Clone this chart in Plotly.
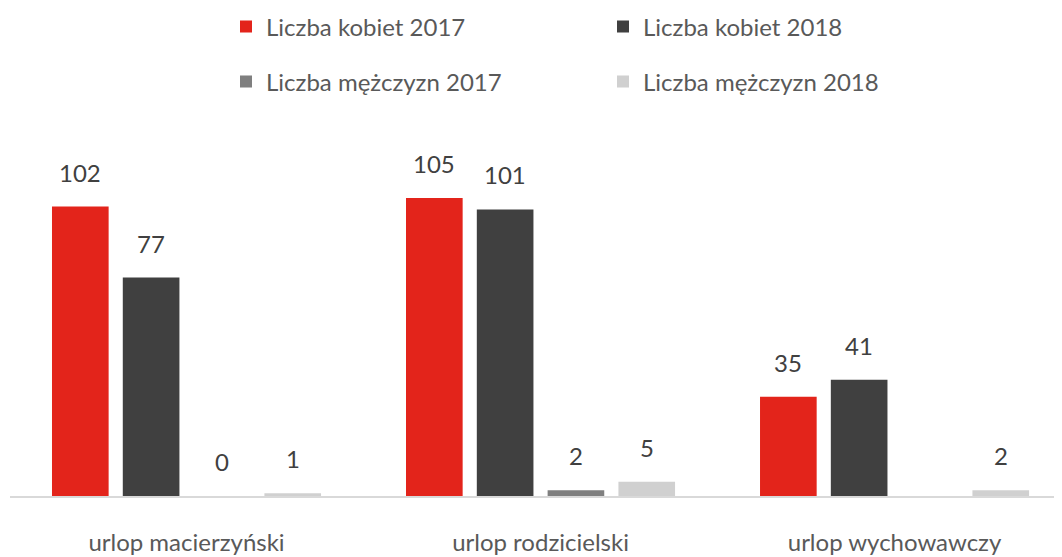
import plotly.graph_objects as go

categories = ["urlop macierzyński", "urlop rodzicielski", "urlop wychowawczy"]
series_names = ["Liczba kobiet 2017", "Liczba kobiet 2018", "Liczba mężczyzn 2017", "Liczba mężczyzn 2018"]
kobiety_2017 = [102, 105, 35]
kobiety_2018 = [77, 101, 41]
mezczyzni_2017 = [0, 2, None]
mezczyzni_2018 = [1, 5, 2]

colors = ["#e3241b", "#404040", "#7f7f7f", "#d0d0d0"]
FONT = "Lato, 'Open Sans', sans-serif"
values = [kobiety_2017, kobiety_2018, mezczyzni_2017, mezczyzni_2018]

# page body has an 8px margin, so the figure is 8px smaller than the window
W, H = 1054, 549

fig = go.Figure()
for i, (name, vals) in enumerate(zip(series_names, values)):
    fig.add_trace(
        go.Bar(
            x=categories,
            y=vals,
            name=name,
            marker=dict(color=colors[i], line=dict(width=0)),
            legend="legend" if i < 2 else "legend2",
        )
    )

# value labels above bars
bar_pitch = 70.8
for i, vals in enumerate(values):
    for cat, v in zip(categories, vals):
        if v is None:
            continue
        fig.add_annotation(
            x=cat,
            y=v,
            text=str(v),
            showarrow=False,
            xshift=(i - 1.5) * bar_pitch,
            yshift=18,
            yanchor="bottom",
            font=dict(family=FONT, size=24, color="#404040"),
        )

legend_style = dict(
    orientation="h",
    xref="container",
    yref="container",
    x=218 / W,
    xanchor="left",
    yanchor="middle",
    entrywidth=332,
    font=dict(family=FONT, size=24, color="#595959"),
    bgcolor="rgba(0,0,0,0)",
)

fig.update_layout(
    width=W,
    height=H,
    margin=dict(l=2, r=0, t=122, b=61, autoexpand=False),
    paper_bgcolor="white",
    plot_bgcolor="white",
    barmode="group",
    bargap=0.2,
    bargroupgap=0.2,
    showlegend=True,
    legend=dict(legend_style, y=1 - 19 / H),
    legend2=dict(legend_style, y=1 - 74 / H),
    xaxis=dict(
        type="category",
        range=[-0.4986, 2.473],
        automargin=False,
        showline=True,
        linecolor="#d9d9d9",
        linewidth=2,
        ticks="outside",
        ticklen=24,
        tickcolor="rgba(0,0,0,0)",
        tickfont=dict(family=FONT, size=24, color="#595959"),
        showgrid=False,
    ),
    yaxis=dict(
        range=[0, 129],
        visible=False,
        showgrid=False,
    ),
)

fig.write_html("out.html")
